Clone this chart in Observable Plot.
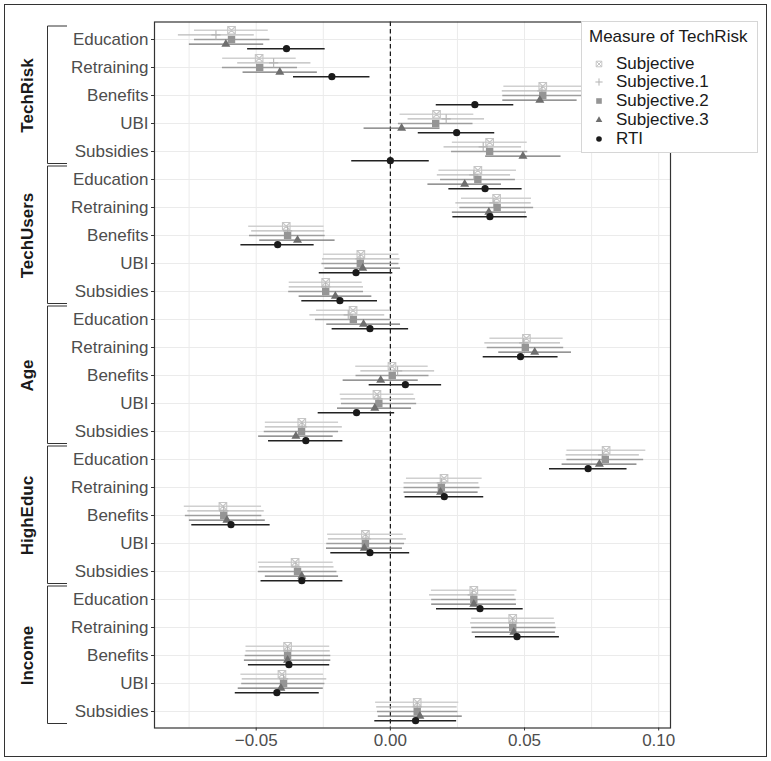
<!DOCTYPE html>
<html><head><meta charset="utf-8">
<script src="https://cdn.jsdelivr.net/npm/d3@7"></script>
<script src="https://cdn.jsdelivr.net/npm/@observablehq/plot@0.6"></script>
<style>
body{margin:0;background:#fff;font-family:"Liberation Sans",Arial,sans-serif;}
#wrap{position:relative;width:771px;height:761px;}
#legend{position:absolute;left:581px;top:21px;width:177px;height:132px;background:#fff;border:1px solid #d6d6d6;box-sizing:border-box;color:#1a1a1a;font-size:17px;}
#legend .title{position:absolute;left:7px;top:5px;line-height:19px;white-space:nowrap;}
#legend .item{position:absolute;left:0;height:19px;line-height:19px;white-space:nowrap;}
#legend .item svg{position:absolute;left:9px;top:2px;}
#legend .item span{position:absolute;left:34px;top:0;}
</style></head><body><div id="wrap"></div>
<script>
const groups = ["TechRisk","TechUsers","Age","HighEduc","Income"];
const policies = ["Education","Retraining","Benefits","UBI","Subsidies"];
const measures = ["Subjective","Subjective.1","Subjective.2","Subjective.3","RTI"];
const measureColors = ["#c6c6c6","#b3b3b3","#959595","#6e6e6e","#1a1a1a"];
const barColors = ["#d0d0d0","#bababa","#9e9e9e","#727272","#222222"];
const xTicks = [-0.05, 0, 0.05, 0.10];
const xGrid = [-0.075, -0.05, -0.025, 0, 0.025, 0.05, 0.075, 0.10];

// rows: TechRisk(Edu,Ret,Ben,UBI,Sub), TechUsers(...), Age(...), HighEduc(...), Income(...)
const estSubjective = [-0.0592,-0.0489,0.0568,0.0172,0.0370, 0.0326,0.0396,-0.0388,-0.0110,-0.0241, -0.0139,0.0507,0.0006,-0.0050,-0.0330, 0.0804,0.0200,-0.0624,-0.0093,-0.0355, 0.0311,0.0456,-0.0383,-0.0404,0.0100];
const loSubjective  = [-0.0730,-0.0625,0.0423,0.0036,0.0231, 0.0181,0.0265,-0.0528,-0.0249,-0.0377, -0.0275,0.0371,-0.0129,-0.0187,-0.0466, 0.0658,0.0060,-0.0768,-0.0234,-0.0492, 0.0153,0.0303,-0.0538,-0.0557,-0.0055];
const hiSubjective  = [-0.0455,-0.0351,0.0713,0.0311,0.0510, 0.0470,0.0526,-0.0247,0.0032,-0.0105, 0.0001,0.0644,0.0141,0.0088,-0.0193, 0.0952,0.0342,-0.0480,0.0048,-0.0213, 0.0472,0.0611,-0.0226,-0.0249,0.0255];

const estSubjective1 = [-0.0650,-0.0435,0.0565,0.0208,0.0346, 0.0311,0.0386,-0.0383,-0.0113,-0.0241, -0.0157,0.0497,0.0027,-0.0046,-0.0329, 0.0791,0.0190,-0.0621,-0.0091,-0.0352, 0.0305,0.0456,-0.0383,-0.0398,0.0100];
const loSubjective1  = [-0.0790,-0.0569,0.0417,0.0066,0.0200, 0.0175,0.0244,-0.0517,-0.0253,-0.0377, -0.0300,0.0352,-0.0110,-0.0184,-0.0466, 0.0655,0.0051,-0.0755,-0.0231,-0.0488, 0.0146,0.0299,-0.0538,-0.0552,-0.0051];
const hiSubjective1  = [-0.0507,-0.0296,0.0713,0.0351,0.0489, 0.0448,0.0525,-0.0244,0.0036,-0.0100, -0.0021,0.0634,0.0165,0.0094,-0.0179, 0.0928,0.0330,-0.0470,0.0060,-0.0210, 0.0464,0.0615,-0.0224,-0.0237,0.0249];

const estSubjective2 = [-0.0592,-0.0487,0.0568,0.0169,0.0370, 0.0326,0.0398,-0.0383,-0.0112,-0.0241, -0.0138,0.0503,0.0007,-0.0043,-0.0331, 0.0801,0.0190,-0.0621,-0.0093,-0.0346, 0.0311,0.0456,-0.0383,-0.0398,0.0100];
const loSubjective2  = [-0.0730,-0.0626,0.0419,0.0030,0.0228, 0.0187,0.0259,-0.0525,-0.0255,-0.0379, -0.0279,0.0361,-0.0128,-0.0182,-0.0470, 0.0658,0.0051,-0.0764,-0.0237,-0.0492, 0.0154,0.0303,-0.0541,-0.0554,-0.0048];
const hiSubjective2  = [-0.0449,-0.0346,0.0717,0.0308,0.0512, 0.0466,0.0534,-0.0243,0.0032,-0.0100, 0.0001,0.0646,0.0144,0.0098,-0.0193, 0.0944,0.0334,-0.0479,0.0053,-0.0199, 0.0469,0.0618,-0.0222,-0.0244,0.0252];

const estSubjective3 = [-0.0613,-0.0412,0.0557,0.0042,0.0494, 0.0277,0.0367,-0.0346,-0.0103,-0.0205, -0.0100,0.0538,-0.0036,-0.0058,-0.0352, 0.0779,0.0187,-0.0609,-0.0097,-0.0330, 0.0311,0.0460,-0.0383,-0.0408,0.0110];
const loSubjective3  = [-0.0749,-0.0549,0.0419,-0.0098,0.0355, 0.0140,0.0231,-0.0487,-0.0244,-0.0340, -0.0237,0.0404,-0.0176,-0.0197,-0.0491, 0.0640,0.0051,-0.0749,-0.0238,-0.0466, 0.0154,0.0305,-0.0544,-0.0567,-0.0045];
const hiSubjective3  = [-0.0472,-0.0272,0.0696,0.0185,0.0636, 0.0414,0.0507,-0.0206,0.0038,-0.0069, 0.0038,0.0675,0.0104,0.0079,-0.0213, 0.0919,0.0327,-0.0466,0.0045,-0.0193, 0.0470,0.0615,-0.0222,-0.0250,0.0268];

const estRTI = [-0.0387,-0.0218,0.0315,0.0247,0.0000, 0.0353,0.0371,-0.0420,-0.0128,-0.0188, -0.0076,0.0485,0.0056,-0.0126,-0.0315, 0.0737,0.0201,-0.0594,-0.0076,-0.0330, 0.0334,0.0472,-0.0378,-0.0423,0.0094];
const loRTI  = [-0.0532,-0.0361,0.0171,0.0104,-0.0144, 0.0218,0.0233,-0.0557,-0.0265,-0.0330, -0.0217,0.0346,-0.0079,-0.0269,-0.0454, 0.0593,0.0055,-0.0740,-0.0222,-0.0482, 0.0172,0.0317,-0.0529,-0.0578,-0.0058];
const hiRTI  = [-0.0243,-0.0076,0.0460,0.0389,0.0145, 0.0491,0.0510,-0.0284,0.0009,-0.0048, 0.0068,0.0625,0.0191,0.0016,-0.0177, 0.0882,0.0348,-0.0448,0.0072,-0.0177, 0.0495,0.0630,-0.0226,-0.0265,0.0247];

const EST = [estSubjective, estSubjective1, estSubjective2, estSubjective3, estRTI];
const LO = [loSubjective, loSubjective1, loSubjective2, loSubjective3, loRTI];
const HI = [hiSubjective, hiSubjective1, hiSubjective2, hiSubjective3, hiRTI];

const rows = groups.flatMap(g => policies.map(p => g + "|" + p));
const data = [];
measures.forEach((m, mi) => rows.forEach((r, ri) => data.push({measure: m, mi, row: r, est: EST[mi][ri], lo: LO[mi][ri], hi: HI[mi][ri]})));

const symSquareCross = {draw(c, size){const h = Math.sqrt(size/Math.PI); c.moveTo(-h,-h); c.lineTo(h,-h); c.lineTo(h,h); c.lineTo(-h,h); c.closePath(); c.moveTo(-h,-h); c.lineTo(h,h); c.moveTo(h,-h); c.lineTo(-h,h);}};
const symPlus = {draw(c, size){const h = Math.sqrt(size/Math.PI); c.moveTo(-h,0); c.lineTo(h,0); c.moveTo(0,-h); c.lineTo(0,h);}};
const symSquare = {draw(c, size){const h = Math.sqrt(size/Math.PI); c.rect(-h,-h,2*h,2*h);}};
const symTriangle = {draw(c, size){const h = Math.sqrt(size/Math.PI); c.moveTo(0,-1.155*h); c.lineTo(h,0.577*h); c.lineTo(-h,0.577*h); c.closePath();}};
const symCircle = {draw(c, size){const h = Math.sqrt(size/Math.PI); c.moveTo(h,0); c.arc(0,0,h,0,2*Math.PI);}};

const symbols = [symSquareCross, symPlus, symSquare, symTriangle, symCircle];
const symR = [3.8, 4.6, 3.7, 4.5, 3.6];
const symFilled = [false, false, true, true, true];
const dodge = 4.6;

const barMarks = measures.map((m, mi) => Plot.ruleY(data.filter(d => d.mi === mi), {
  y: "row", x1: "lo", x2: "hi", dy: (mi - 2) * dodge, stroke: barColors[mi], strokeWidth: 1.4
}));
const dotMarks = measures.map((m, mi) => Plot.dot(data.filter(d => d.mi === mi), {
  x: "est", y: "row", dy: (mi - 2) * dodge, symbol: symbols[mi], r: symR[mi],
  fill: symFilled[mi] ? measureColors[mi] : "none",
  stroke: symFilled[mi] ? "none" : measureColors[mi], strokeWidth: 1.1
}));

const plot = Plot.plot({
  width: 771, height: 761,
  marginLeft: 154, marginRight: 101, marginTop: 21.5, marginBottom: 33.5,
  style: {fontFamily: '"Liberation Sans", Arial, sans-serif', fontSize: "17px", background: "#fff", color: "#4d4d4d"},
  x: {domain: [-0.0879, 0.1044], label: null},
  y: {type: "point", domain: rows, padding: 0.6, label: null},
  marks: [
    Plot.ruleX(xGrid, {stroke: "#ebebeb", strokeWidth: 1}),
    Plot.ruleY(rows, {y: d => d, stroke: "#ebebeb", strokeWidth: 1}),
    Plot.ruleX([0], {stroke: "#111", strokeWidth: 1.2, strokeDasharray: "4.5,3"}),
    ...barMarks,
    ...dotMarks,
    Plot.frame({stroke: "#333", strokeWidth: 1.2}),
    Plot.axisX({ticks: xTicks, tickSize: 3, tickPadding: 3, tickFormat: d3.format(".2f"), fontSize: 17, stroke: "#333", fill: "#4d4d4d", label: null}),
    Plot.axisY({tickSize: 3, tickPadding: 3, tickFormat: d => d.split("|")[1], fontSize: 17, stroke: "#333", fill: "#4d4d4d", label: null}),
    Plot.text(groups, {y: d => d + "|Benefits", text: d => d, frameAnchor: "left", dx: -127, rotate: -90, textAnchor: "middle", fontWeight: "bold", fontSize: 17, fill: "#1a1a1a"})
  ]
});

document.getElementById("wrap").appendChild(plot);

// nested group brackets, positioned through the plot's y scale
const ys = plot.scale("y");
const svg = d3.select(plot);
const br = svg.append("g").attr("fill", "none").attr("stroke", "#333").attr("stroke-width", 1);
groups.forEach(g => {
  const top = ys.apply(g + "|" + policies[0]) - 13;
  const bot = ys.apply(g + "|" + policies[policies.length - 1]) + 12.5;
  br.append("path").attr("d", `M67,${top}H47.5V${bot}H67`);
});
// outer frame of the whole figure
svg.append("rect").attr("x", 4.5).attr("y", 4.5).attr("width", 762).attr("height", 752)
  .attr("fill", "none").attr("stroke", "#333").attr("stroke-width", 1);

// legend
const legend = d3.select("#wrap").append("div").attr("id", "legend");
legend.append("div").attr("class", "title").text("Measure of TechRisk");
const legR = [2.8, 3.6, 2.8, 3.3, 2.8];
measures.forEach((m, mi) => {
  const item = legend.append("div").attr("class", "item").style("top", (31.5 + mi * 18.9) + "px");
  const s = item.append("svg").attr("width", 16).attr("height", 16);
  s.append("path").attr("transform", "translate(8,8)")
    .attr("d", d3.symbol(symbols[mi], Math.PI * legR[mi] * legR[mi])())
    .attr("fill", symFilled[mi] ? measureColors[mi] : "none")
    .attr("stroke", symFilled[mi] ? "none" : measureColors[mi]).attr("stroke-width", 1);
  item.append("span").text(m);
});
</script></body></html>
